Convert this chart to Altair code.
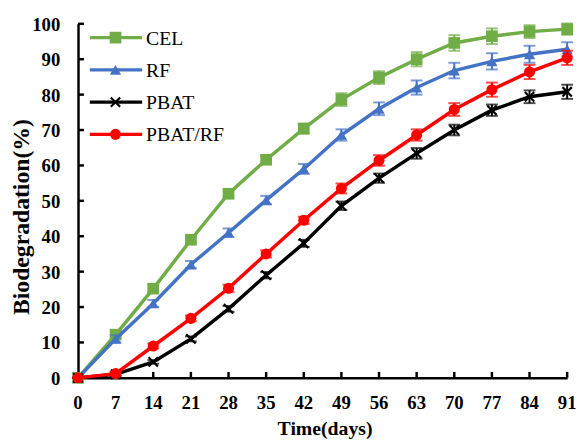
import altair as alt
import pandas as pd

days = [0, 7, 14, 21, 28, 35, 42, 49, 56, 63, 70, 77, 84, 91]
yticks = [0, 10, 20, 30, 40, 50, 60, 70, 80, 90, 100]
series_names = ["CEL", "RF", "PBAT", "PBAT/RF"]
cel = [0, 12.2, 25.2, 39.0, 52.0, 61.6, 70.4, 78.6, 84.8, 90.0, 94.6, 96.5, 97.8, 98.5]
rf = [0, 11.0, 21.0, 32.0, 41.0, 50.2, 59.0, 68.6, 76.0, 82.0, 86.8, 89.4, 91.4, 92.8]
pbat = [0, 1.0, 4.5, 11.0, 19.5, 29.0, 38.0, 48.6, 56.4, 63.4, 70.0, 75.6, 79.4, 80.8]
pbatrf = [0, 1.2, 9.0, 16.8, 25.3, 35.0, 44.5, 53.5, 61.4, 68.6, 75.8, 81.4, 86.4, 90.4]
cel_err = [0, 1.0, 1.0, 1.0, 1.0, 1.2, 1.4, 1.8, 1.8, 2.0, 2.2, 2.2, 1.8, 1.6]
rf_err = [0, 1.0, 1.0, 1.0, 1.2, 1.2, 1.4, 1.6, 1.8, 2.0, 2.2, 2.3, 2.4, 2.0]
pbat_err = [0, 0.5, 0.5, 0.7, 0.8, 0.9, 1.0, 1.2, 1.3, 1.5, 1.5, 1.6, 1.8, 2.0]
pbatrf_err = [0, 0.5, 0.7, 0.8, 1.0, 1.0, 1.0, 1.4, 1.5, 1.6, 1.8, 2.0, 2.0, 2.0]

colors = ["#70AD47", "#4472C4", "#000000", "#FF0000"]
xpath = "M-1,-1L1,1M1,-1L-1,1"
shapes = ["square", "triangle-up", xpath, "circle"]
sizes = [140, 130, 90, 125]

rows = []
for name, vals, errs in zip(series_names, [cel, rf, pbat, pbatrf], [cel_err, rf_err, pbat_err, pbatrf_err]):
    for d, v, e in zip(days, vals, errs):
        rows.append({"series": name, "day": d, "value": v, "lo": v - e, "hi": v + e})
df = pd.DataFrame(rows)

FONT = "Liberation Serif"
W, H = 496, 359

xscale = alt.Scale(domain=[0, 91], nice=False)
yscale = alt.Scale(domain=[0, 100], nice=False)

xaxis = alt.Axis(values=days, title="Time(days)", grid=False, ticks=False, labels=False,
                 titleFont=FONT, titleFontSize=20, titleFontWeight="bold", titleColor="black",
                 titleBaseline="alphabetic", titleY=57, titleX=W / 2 + 2,
                 domainColor="black", domainWidth=2.5)
yaxis = alt.Axis(values=yticks, title="Biodegradation(%)", grid=False, ticks=False, labels=False,
                 titleFont=FONT, titleFontSize=24, titleFontWeight="bold", titleColor="black",
                 titleAngle=-90, titleBaseline="alphabetic", titleX=-50, titleY=H / 2 + 16,
                 domainColor="black", domainWidth=2.5)

base = alt.Chart(df)
layers = []

# x ticks (inward) and tick labels
tick_df = pd.DataFrame({"day": days})
layers.append(alt.Chart(tick_df).mark_rule(color="black", strokeWidth=2.5).encode(
    x=alt.X("day:Q", scale=xscale, axis=xaxis),
    y=alt.value(H), y2=alt.value(H - 6)))
layers.append(alt.Chart(tick_df).mark_text(font=FONT, fontSize=19, fontWeight="bold", color="black",
                                           align="center", baseline="alphabetic").encode(
    x=alt.X("day:Q", scale=xscale), y=alt.value(H + 32), text="day:Q"))
# y ticks (inward) and tick labels
ytick_df = pd.DataFrame({"v": yticks})
layers.append(alt.Chart(ytick_df).mark_rule(color="black", strokeWidth=2.5).encode(
    y=alt.Y("v:Q", scale=yscale, axis=yaxis),
    x=alt.value(0), x2=alt.value(6)))
layers.append(alt.Chart(ytick_df).mark_text(font=FONT, fontSize=19, fontWeight="bold", color="black",
                                            align="right", baseline="middle", dy=1).encode(
    y=alt.Y("v:Q", scale=yscale), x=alt.value(-18), text="v:Q"))

for i, name in enumerate(series_names):
    sub = base.transform_filter(alt.datum.series == name)
    col = colors[i]
    line = sub.mark_line(color=col, strokeWidth=3.5).encode(
        x=alt.X("day:Q", scale=xscale),
        y=alt.Y("value:Q", scale=yscale),
    )
    err = sub.mark_rule(color=col, strokeWidth=2).encode(
        x="day:Q", y="lo:Q", y2="hi:Q")
    caps_lo = sub.mark_tick(color=col, thickness=2, size=12, orient="horizontal").encode(
        x="day:Q", y="lo:Q")
    caps_hi = sub.mark_tick(color=col, thickness=2, size=12, orient="horizontal").encode(
        x="day:Q", y="hi:Q")
    if name == "PBAT":
        pts = sub.mark_point(shape=xpath, color=col, filled=False, strokeWidth=2.2, size=sizes[i], opacity=1).encode(
            x="day:Q", y="value:Q")
    else:
        pts = sub.mark_point(shape=shapes[i], color=col, filled=True, size=sizes[i], opacity=1).encode(
            x="day:Q", y="value:Q")
    layers += [line, err, caps_lo, caps_hi, pts]

# legend (top-left inside plot)
leg_df = pd.DataFrame({"series": series_names, "idx": list(range(4))})
leg_base = alt.Chart(leg_df)
for i, name in enumerate(series_names):
    yv = 14 + 32.7 * i
    lb = leg_base.transform_filter(alt.datum.series == name)
    layers.append(lb.mark_rule(color=colors[i], strokeWidth=3.5).encode(
        x=alt.value(12), x2=alt.value(65), y=alt.value(yv)))
    if name == "PBAT":
        layers.append(lb.mark_point(shape=xpath, color=colors[i], filled=False, strokeWidth=2.2, size=sizes[i], opacity=1).encode(
            x=alt.value(38), y=alt.value(yv)))
    else:
        layers.append(lb.mark_point(shape=shapes[i], color=colors[i], filled=True, size=sizes[i], opacity=1).encode(
            x=alt.value(38), y=alt.value(yv)))
    layers.append(lb.mark_text(align="left", baseline="middle", font=FONT, fontSize=20, color="black").encode(
        x=alt.value(69), y=alt.value(yv + 1), text="series:N"))

chart = alt.layer(*layers).properties(
    width=W, height=H,
    autosize=alt.AutoSizeParams(type="none"),
    padding={"left": 71, "top": 13, "right": 11, "bottom": 61},
).configure_view(stroke=None)

chart.save("out.html", embed_options={"renderer": "svg", "actions": False})
